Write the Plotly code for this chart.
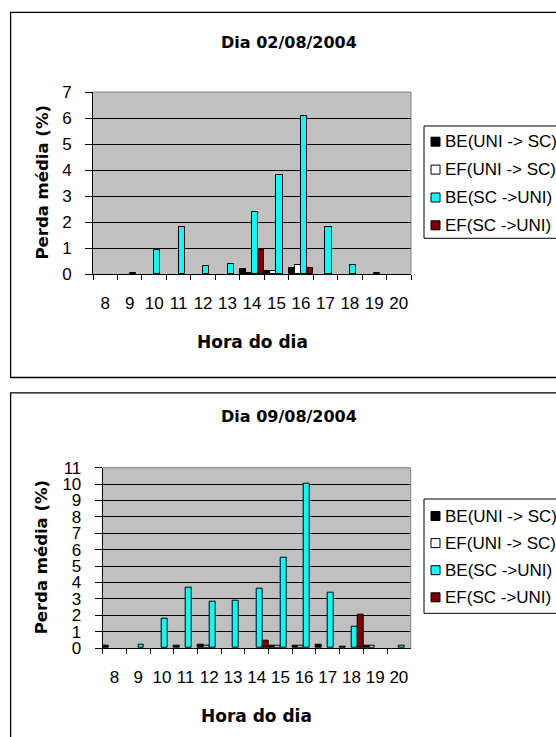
import plotly.graph_objects as go

# Hours of the day (category axis)
hours = [str(h) for h in range(8, 21)]

series_names = ["BE(UNI -> SC)", "EF(UNI -> SC)", "BE(SC ->UNI)", "EF(SC ->UNI)"]
series_colors = ["#000000", "#FFFFFF", "#00FFFF", "#800000"]

# Dia 02/08/2004 - perda média (%) por hora
d1_be_uni_sc = [None, None, None, None, None, None, 0.18, 0.12, 0.25, None, None, None, None]
d1_ef_uni_sc = [None, None, None, None, None, None, 0.05, 0.10, 0.35, None, None, None, None]
d1_be_sc_uni = [None, 0.05, 0.93, 1.80, 0.30, 0.40, 2.40, 3.82, 6.06, 1.80, 0.35, 0.05, None]
d1_ef_sc_uni = [None, None, None, None, None, None, 0.93, None, 0.25, None, None, None, None]

# Dia 09/08/2004 - perda média (%) por hora
d2_be_uni_sc = [0.12, None, None, 0.12, 0.20, None, None, 0.15, 0.15, 0.20, 0.10, 0.15, None]
d2_ef_uni_sc = [None, None, None, None, 0.12, None, None, 0.15, 0.15, None, None, 0.15, None]
d2_be_sc_uni = [None, 0.20, 1.80, 3.69, 2.80, 2.86, 3.61, 5.48, 10.0, 3.35, 1.32, None, 0.17]
d2_ef_sc_uni = [None, None, None, None, None, None, 0.44, None, None, None, 2.03, None, None]

W, H = 556, 737


def px(x):
    return x / W


def py(y):
    return 1 - y / H


REG = "Liberation Sans, Arial, sans-serif"
BOLD = "DejaVu Sans, Arial, sans-serif"

charts = [
    dict(title="Dia 02/08/2004", series=[d1_be_uni_sc, d1_ef_uni_sc, d1_be_sc_uni, d1_ef_sc_uni],
         ymax=7, plot=(93, 92, 411, 274), box=(10.6, 12.4, 620, 377.5), title_y=43,
         legend_box=(424, 126, 238.3), legend_rows=[141.7, 169.6, 197.5, 225.3], ytitle_x=42.5),
    dict(title="Dia 09/08/2004", series=[d2_be_uni_sc, d2_ef_uni_sc, d2_be_sc_uni, d2_ef_sc_uni],
         ymax=11, plot=(102.7, 467.7, 410.7, 648), box=(10.6, 392.8, 620, 800), title_y=416.5,
         legend_box=(424, 499, 613.3), legend_rows=[516, 543.1, 570.2, 597.3], ytitle_x=41.5),
]

fig = go.Figure()
shapes = []
annotations = []
layout_axes = {}

for k, ch in enumerate(charts):
    sfx = "" if k == 0 else str(k + 1)
    x0, y0, x1, y1 = ch["plot"]
    for name, color, vals in zip(series_names, series_colors, ch["series"]):
        fig.add_trace(go.Bar(
            x=hours, y=vals, name=name, showlegend=False,
            marker=dict(color=color, line=dict(color="#000000", width=1)),
            xaxis="x" + sfx, yaxis="y" + sfx,
        ))

    layout_axes["xaxis" + sfx] = dict(
        domain=[px(x0), px(x1)], anchor="y" + sfx, type="category",
        range=[-0.5, len(hours) - 0.5], showline=True, linecolor="#000000", linewidth=1,
        ticks="outside", tickson="boundaries", ticklen=5, tickcolor="#000000",
        showgrid=False, zeroline=False, automargin=False, fixedrange=True,
        tickangle=0, tickfont=dict(family=REG, size=17, color="#000000"), ticklabelstandoff=14,
    )
    layout_axes["yaxis" + sfx] = dict(
        domain=[py(y1), py(y0)], anchor="x" + sfx, range=[0, ch["ymax"]], dtick=1,
        showgrid=True, gridcolor="#000000", gridwidth=1, zeroline=False,
        showline=True, linecolor="#000000", linewidth=1,
        ticks="outside", ticklen=7, tickcolor="#000000", automargin=False, fixedrange=True,
        tickfont=dict(family=REG, size=17, color="#000000"), ticklabelstandoff=10,
    )

    # Chart frame
    bx0, by0, bx1, by1 = ch["box"]
    shapes.append(dict(type="rect", xref="paper", yref="paper", x0=px(bx0), x1=px(bx1),
                       y0=py(by1), y1=py(by0), line=dict(color="#000000", width=1.3),
                       fillcolor="rgba(0,0,0,0)", layer="below"))
    # Grey plot-area border on top and right
    shapes.append(dict(type="line", xref="paper", yref="paper", x0=px(x0), x1=px(x1),
                       y0=py(y0), y1=py(y0), line=dict(color="#808080", width=1)))
    shapes.append(dict(type="line", xref="paper", yref="paper", x0=px(x1), x1=px(x1),
                       y0=py(y0), y1=py(y1), line=dict(color="#808080", width=1)))

    # Titles
    annotations.append(dict(text="<b>" + ch["title"] + "</b>", xref="paper", yref="paper",
                            x=px(289), y=py(ch["title_y"]), showarrow=False,
                            xanchor="center", yanchor="middle",
                            font=dict(family=BOLD, size=16, color="#000000")))
    annotations.append(dict(text="<b>Hora do dia</b>", xref="paper", yref="paper",
                            x=px((x0 + x1) / 2), y=py(y1 + 68), showarrow=False,
                            xanchor="center", yanchor="middle",
                            font=dict(family=BOLD, size=17, color="#000000")))
    annotations.append(dict(text="<b>Perda média (%)</b>", xref="paper", yref="paper",
                            x=px(ch["ytitle_x"]), y=py((y0 + y1) / 2), showarrow=False,
                            textangle=-90, xanchor="center", yanchor="middle",
                            font=dict(family=BOLD, size=16.5, color="#000000")))

    # Legend
    lx, ly0, ly1 = ch["legend_box"]
    shapes.append(dict(type="rect", xref="paper", yref="paper", x0=px(lx), x1=px(620),
                       y0=py(ly1), y1=py(ly0), line=dict(color="#000000", width=1),
                       fillcolor="#FFFFFF"))
    for name, color, ry in zip(series_names, series_colors, ch["legend_rows"]):
        shapes.append(dict(type="rect", xref="paper", yref="paper",
                           x0=px(lx + 7), x1=px(lx + 16), y0=py(ry + 4.5), y1=py(ry - 4.5),
                           line=dict(color="#000000", width=1), fillcolor=color))
        annotations.append(dict(text=name, xref="paper", yref="paper",
                                x=px(lx + 19), y=py(ry), showarrow=False,
                                xanchor="left", yanchor="middle",
                                font=dict(family=REG, size=17, color="#000000")))

fig.update_layout(
    width=W, height=H, margin=dict(l=0, r=0, t=0, b=0),
    paper_bgcolor="#FFFFFF", plot_bgcolor="#C0C0C0",
    barmode="group", bargap=0, bargroupgap=0,
    showlegend=False, shapes=shapes, annotations=annotations,
    **layout_axes,
)

fig.write_html("out.html")
